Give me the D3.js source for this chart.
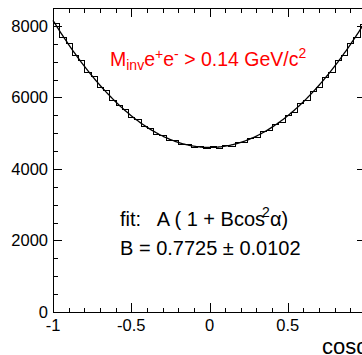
<!DOCTYPE html>
<html>
<head>
<meta charset="utf-8">
<script src="https://cdn.jsdelivr.net/npm/d3@7"></script>
<style>
  body { margin: 0; background: #fff; }
  text { font-family: 'Liberation Sans', Arial, Helvetica, sans-serif; }
</style>
</head>
<body>
<svg id="chart"></svg>
<script>
// histogram of cos(alpha), 50 bins from -1 to 1
const binEdges = d3.range(51).map(i => -1 + i * 0.04)
const counts = [
  8080, 7700, 7530, 7180, 7040, 6720, 6600, 6300, 6200, 5930,
  5790, 5680, 5450, 5390, 5200, 5150, 4990, 4950, 4810, 4800,
  4690, 4700, 4620, 4640, 4590,
  4640, 4580, 4660, 4650, 4740, 4750, 4870, 4890, 5060, 5080,
  5260, 5320, 5510, 5600, 5840, 5920, 6190, 6300, 6580, 6720,
  7040, 7190, 7530, 7700, 8060
]
// fit: A (1 + B cos^2 alpha)
const fitA = 4600
const fitB = 0.7725
const xTicks = [-1, -0.5, 0, 0.5, 1]
const xTickLabels = ['-1', '-0.5', '0', '0.5', '1']
const yTicks = [0, 2000, 4000, 6000, 8000]

const width = 362
const height = 355
const plotLeft = 53
const plotRight = 366 // frame runs past the window edge
const plotTop = 8
const plotBottom = 312

const svg = d3.select('#chart').attr('width', width).attr('height', height)

const x = d3.scaleLinear().domain([-1, 1]).range([plotLeft, plotRight])
const y = d3.scaleLinear().domain([0, 8500]).range([plotBottom, plotTop])

// frame
svg.append('rect')
  .attr('x', plotLeft + 0.5).attr('y', plotTop + 0.5)
  .attr('width', plotRight - plotLeft).attr('height', plotBottom - plotTop)
  .attr('fill', 'none').attr('stroke', '#000').attr('stroke-width', 1)
  .attr('shape-rendering', 'crispEdges')

// ticks on all four sides, pointing inward
const xMinor = d3.range(-10, 11).map(i => i / 10)
const yMinor = d3.range(0, 18).map(i => i * 500)
const isMajorX = v => xTicks.some(t => Math.abs(t - v) < 1e-9)
const isMajorY = v => yTicks.includes(v)
const tickG = svg.append('g').attr('stroke', '#000').attr('stroke-width', 1)
  .attr('shape-rendering', 'crispEdges')
xMinor.forEach(v => {
  const len = isMajorX(v) ? 9 : 4.5
  const px = Math.round(x(v)) + 0.5
  tickG.append('line').attr('x1', px).attr('x2', px).attr('y1', plotBottom).attr('y2', plotBottom - len)
  tickG.append('line').attr('x1', px).attr('x2', px).attr('y1', plotTop).attr('y2', plotTop + len)
})
yMinor.forEach(v => {
  const len = isMajorY(v) ? 9 : 4.5
  const py = Math.round(y(v)) + 0.5
  tickG.append('line').attr('x1', plotLeft).attr('x2', plotLeft + len).attr('y1', py).attr('y2', py)
  tickG.append('line').attr('x1', plotRight).attr('x2', plotRight - len).attr('y1', py).attr('y2', py)
})

// tick labels (the one at +1 falls outside the window)
svg.append('g').selectAll('text').data(xTicks.slice(0, 4)).join('text')
  .attr('x', d => x(d)).attr('y', 331)
  .attr('text-anchor', 'middle').attr('font-size', 16.5)
  .text((d, i) => xTickLabels[i])
svg.append('g').selectAll('text').data(yTicks).join('text')
  .attr('x', 48).attr('y', d => y(d) + 6)
  .attr('text-anchor', 'end').attr('font-size', 16.5)
  .text(d => d)

// step histogram outline
const steps = []
counts.forEach((c, i) => {
  steps.push([binEdges[i], c])
  steps.push([binEdges[i + 1], c])
})
svg.append('path')
  .datum(steps)
  .attr('fill', 'none').attr('stroke', '#000').attr('stroke-width', 1)
  .attr('shape-rendering', 'crispEdges')
  .attr('d', d3.line().x(d => Math.round(x(d[0])) + 0.5).y(d => Math.round(y(d[1])) + 0.5))

// fit curve
const fitPts = d3.range(-1, 1.0001, 0.01).map(c => [c, fitA * (1 + fitB * c * c)])
svg.append('path')
  .datum(fitPts)
  .attr('fill', 'none').attr('stroke', '#000').attr('stroke-width', 1.3)
  .attr('d', d3.line().x(d => x(d[0])).y(d => y(d[1])).curve(d3.curveBasis))

// red cut label
const cut = svg.append('text').attr('x', 110).attr('y', 66)
  .attr('font-size', 19.5).attr('fill', '#f00')
cut.append('tspan').text('M')
cut.append('tspan').attr('font-size', 14).attr('dy', 4).text('inv')
cut.append('tspan').attr('dy', -4).text('e')
cut.append('tspan').attr('font-size', 14).attr('dy', -7).text('+')
cut.append('tspan').attr('dy', 7).text('e')
cut.append('tspan').attr('font-size', 14).attr('dy', -7).text('-')
cut.append('tspan').attr('dy', 7).text(' > 0.14 GeV/c')
cut.append('tspan').attr('font-size', 14).attr('dy', -8).text('2')

// fit text
const fitText = svg.append('text').attr('x', 120).attr('y', 226).attr('font-size', 20)
fitText.append('tspan').style('white-space', 'pre').text('fit:   A ( 1 + Bcos')
fitText.append('tspan').attr('font-size', 14).attr('dx', -3).attr('dy', -9).text('2')
fitText.append('tspan').attr('dy', 9).text('\u03b1)')

svg.append('text').attr('x', 120).attr('y', 255).attr('font-size', 20)
  .text('B = 0.7725 \u00b1 0.0102')

// axis title, clipped by the window edge as in the original
svg.append('text').attr('x', 322).attr('y', 354).attr('font-size', 22)
  .text('cos\u03b1')
</script>
</body>
</html>
